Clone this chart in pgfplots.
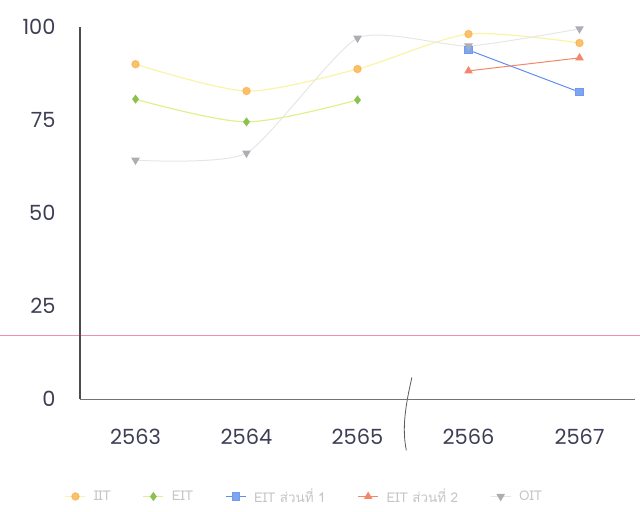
\documentclass[border=0pt]{standalone}
\usepackage{pgfplots}
\pgfplotsset{compat=1.18}
\usepackage{fontspec}
\setmainfont{Poppins}
\newfontfamily\thaifont[Script=Thai]{Loma}
\usetikzlibrary{calc}
\definecolor{tick}{HTML}{3D3D55}
\definecolor{iitl}{HTML}{FAF3A8}
\definecolor{iitm}{HTML}{F9B44E}
\definecolor{eitl}{HTML}{E4EE8C}
\definecolor{eitm}{HTML}{8CC152}
\definecolor{ei1}{HTML}{5F8FEE}
\definecolor{ei2}{HTML}{F3876A}
\definecolor{oitl}{HTML}{E6E6E6}
\definecolor{oitm}{HTML}{ADADB5}
\definecolor{leg}{HTML}{C4C4C4}
\definecolor{pinkline}{HTML}{EE8FB8}
\begin{document}
\begin{tikzpicture}
\begin{axis}[
  name=ax,
  scale only axis,
  width=555bp, height=372bp,
  xmin=-0.5, xmax=4.5, ymin=0, ymax=100,
  axis x line*=bottom, axis y line*=left,
  axis on top,
  x axis line style={draw=black!55, line width=0.9pt, -},
  y axis line style={draw=black!70, line width=1.2pt, -},
  xtick={0,1,2,3,4},
  xticklabels={2563,2564,2565,2566,2567},
  ytick={0,25,50,75,100},
  major tick length=0pt,
  tick label style={font=\fontsize{21}{24}\selectfont, text=tick},
  /pgf/number format/assume math mode=true,
  xticklabel style={yshift=-27bp},
  yticklabel style={xshift=-21bp},
  clip=false,
  legend columns=5,
  legend style={draw=none, fill=none, at={(-0.033,-0.262)}, anchor=west,
    font=\thaifont\fontsize{13.5}{14}\selectfont, text=leg,
    /tikz/every even column/.append style={column sep=30bp}},
  legend image code/.code={
    \draw[mark repeat=2,mark phase=2] plot coordinates {(0bp,0bp) (10bp,0bp) (20bp,0bp)};
    \path (26bp,0bp);},
]
\addplot[pinkline, line width=1.4pt, no marks, forget plot] coordinates {(-1.22,17.0) (4.56,17.0)};
\draw[draw=black!65, line width=0.8pt] (axis cs:2.49,5.8) .. controls (axis cs:2.43,-2) and (axis cs:2.40,-8) .. (axis cs:2.44,-13.8);
\addplot[iitl, line width=1.2pt, smooth, tension=0.45, mark=*, mark size=3.6pt, mark options={draw=iitm, fill=iitm, opacity=0.8}]
  coordinates {(0,90.0) (1,82.8) (2,88.7) (3,98.1) (4,95.7)};
\addlegendentry{IIT}
\addplot[eitl, line width=1.2pt, smooth, tension=0.5, mark=diamond*, mark size=3.6pt, mark options={draw=eitm, fill=eitm}]
  coordinates {(0,80.6) (1,74.5) (2,80.4)};
\addlegendentry{EIT}
\addplot[ei1, line width=1.0pt, mark=square*, mark size=3.6pt, mark options={draw=ei1!90, fill=ei1!80}]
  coordinates {(3,93.8) (4,82.5)};
\addlegendentry{EIT ส่วนที่ 1}
\addplot[ei2, line width=1.0pt, mark=triangle*, mark size=4pt, mark options={draw=ei2, fill=ei2}]
  coordinates {(3,88.2) (4,91.7)};
\addlegendentry{EIT ส่วนที่ 2}
\addplot[oitl, line width=1.0pt, smooth, tension=0.35, mark=triangle*, mark size=4pt, mark options={draw=oitm, fill=oitm, rotate=180}]
  coordinates {(0,64.2) (1,66.1) (2,97.0) (3,94.9) (4,99.5)};
\addlegendentry{OIT}
\end{axis}
\pgfresetboundingbox
\path[use as bounding box] ($(ax.south west)+(-80bp,-112bp)$) rectangle ($(ax.north east)+(5bp,27bp)$);
\end{tikzpicture}
\end{document}
